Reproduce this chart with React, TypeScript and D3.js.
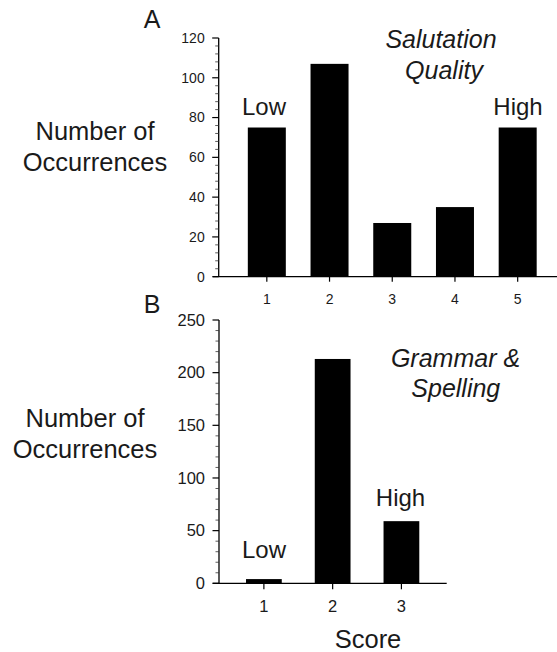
import React from "react";
import * as d3 from "d3";

const scoresA = ["1", "2", "3", "4", "5"];
const valuesA = [75, 107, 27, 35, 75];
const ticksA = [0, 20, 40, 60, 80, 100, 120];

const scoresB = ["1", "2", "3"];
const valuesB = [4, 213, 59];
const ticksB = [0, 50, 100, 150, 200, 250];

const FONT = "'Liberation Sans', Arial, sans-serif";
const TXT = "#1a1a1a";

type PanelProps = {
  cats: string[];
  vals: number[];
  ticks: number[];
  yMax: number;
  minorStep: number;
  xRange: [number, number];
  padInner: number;
  padOuter: number;
  yRange: [number, number];
  axisX0: number;
  axisX1: number;
  yAxisX: number;
  tickFont: number;
  xLabelY: number;
  xTickLen: number;
};

function Panel(p: PanelProps) {
  const x = d3
    .scaleBand<string>()
    .domain(p.cats)
    .range(p.xRange)
    .paddingInner(p.padInner)
    .paddingOuter(p.padOuter);
  const y = d3.scaleLinear().domain([0, p.yMax]).range(p.yRange);
  const minors = d3.range(0, p.yMax + 0.001, p.minorStep).filter((v) => !p.ticks.includes(v));
  return (
    <g>
      {p.cats.map((c, i) => (
        <rect
          key={c}
          x={x(c)!}
          y={y(p.vals[i])}
          width={x.bandwidth()}
          height={y(0) - y(p.vals[i])}
          fill="#000"
        />
      ))}
      <line x1={p.yAxisX} x2={p.yAxisX} y1={y(p.yMax)} y2={y(0)} stroke="#000" strokeWidth={1.3} />
      <line x1={p.axisX0} x2={p.axisX1} y1={y(0)} y2={y(0)} stroke="#000" strokeWidth={1.3} />
      {p.ticks.map((t) => (
        <g key={t}>
          <line x1={p.yAxisX - 6.5} x2={p.yAxisX} y1={y(t)} y2={y(t)} stroke="#000" strokeWidth={1.2} />
          <text
            x={p.yAxisX - 14}
            y={y(t)}
            dy="0.35em"
            textAnchor="end"
            fontSize={p.tickFont}
            fontFamily={FONT}
            fill={TXT}
          >
            {t}
          </text>
        </g>
      ))}
      {minors.map((t) => (
        <line key={t} x1={p.yAxisX - 3.5} x2={p.yAxisX} y1={y(t)} y2={y(t)} stroke="#333" strokeWidth={0.8} />
      ))}
      {p.cats.map((c) => {
        const cx = x(c)! + x.bandwidth() / 2;
        return (
          <g key={c}>
            <line x1={cx} x2={cx} y1={y(0)} y2={y(0) + p.xTickLen} stroke="#000" strokeWidth={1.2} />
            <text x={cx} y={p.xLabelY} textAnchor="middle" fontSize={p.tickFont} fontFamily={FONT} fill={TXT}>
              {c}
            </text>
          </g>
        );
      })}
    </g>
  );
}

export default function App() {
  const big = 25;
  return (
    <svg
      width={557}
      height={652}
      style={{ position: "absolute", left: 0, top: 0, background: "#fff" }}
      fontFamily={FONT}
    >
      <rect width={557} height={652} fill="#fff" />
      {/* Panel A */}
      <text x={152} y={28} textAnchor="middle" fontSize={25} fill={TXT}>A</text>
      <Panel
        cats={scoresA}
        vals={valuesA}
        ticks={ticksA}
        yMax={120}
        minorStep={4}
        xRange={[229, 555.5]}
        padInner={0.394}
        padOuter={0.3}
        yRange={[276.7, 38]}
        axisX0={213}
        axisX1={557}
        yAxisX={218.7}
        tickFont={14}
        xLabelY={304}
        xTickLen={5}
      />
      <text x={95} y={139.5} textAnchor="middle" fontSize={25.5} fill={TXT}>Number of</text>
      <text x={95} y={171} textAnchor="middle" fontSize={25.5} fill={TXT}>Occurrences</text>
      <text x={264} y={115} textAnchor="middle" fontSize={24} fill={TXT}>Low</text>
      <text x={518} y={115} textAnchor="middle" fontSize={24} fill={TXT}>High</text>
      <text x={441} y={48} textAnchor="middle" fontSize={25} fontStyle="italic" fill={TXT}>Salutation</text>
      <text x={444} y={78.5} textAnchor="middle" fontSize={25} fontStyle="italic" fill={TXT}>Quality</text>

      {/* Panel B */}
      <text x={152} y={313} textAnchor="middle" fontSize={25} fill={TXT}>B</text>
      <Panel
        cats={scoresB}
        vals={valuesB}
        ticks={ticksB}
        yMax={250}
        minorStep={10}
        xRange={[218.5, 446.8]}
        padInner={0.48}
        padOuter={0.4}
        yRange={[583.3, 320]}
        axisX0={212.7}
        axisX1={446.7}
        yAxisX={219}
        tickFont={16.5}
        xLabelY={611.5}
        xTickLen={6}
      />
      <text x={85} y={427} textAnchor="middle" fontSize={25.5} fill={TXT}>Number of</text>
      <text x={85} y={458} textAnchor="middle" fontSize={25.5} fill={TXT}>Occurrences</text>
      <text x={264} y={558.3} textAnchor="middle" fontSize={24} fill={TXT}>Low</text>
      <text x={400.5} y={505.7} textAnchor="middle" fontSize={24} fill={TXT}>High</text>
      <text x={455.5} y={366.7} textAnchor="middle" fontSize={big} fontStyle="italic" fill={TXT}>Grammar &amp;</text>
      <text x={455.8} y={397} textAnchor="middle" fontSize={big} fontStyle="italic" fill={TXT}>Spelling</text>
      <text x={368} y={648} textAnchor="middle" fontSize={25.5} fill={TXT}>Score</text>
    </svg>
  );
}
